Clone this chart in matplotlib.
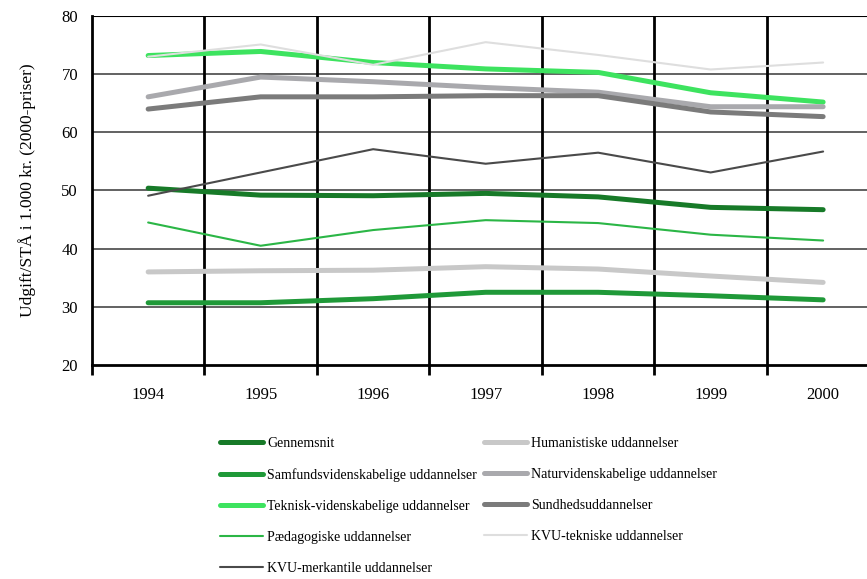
import matplotlib.pyplot as plt
import numpy as np

plt.rcParams['font.family'] = ['Liberation Serif', 'DejaVu Serif']

years = ['1994', '1995', '1996', '1997', '1998', '1999', '2000']

gennemsnit = [50.4, 49.2, 49.1, 49.5, 48.9, 47.1, 46.7]
samfund = [30.7, 30.7, 31.4, 32.5, 32.5, 31.9, 31.2]
teknisk = [73.2, 73.9, 72.0, 70.9, 70.3, 66.8, 65.2]
paedagog = [44.5, 40.5, 43.2, 44.9, 44.4, 42.4, 41.4]
kvu_merk = [49.1, 53.1, 57.1, 54.6, 56.5, 53.1, 56.7]
humanist = [36.0, 36.2, 36.3, 36.9, 36.5, 35.3, 34.2]
natur = [66.1, 69.5, 68.7, 67.7, 66.9, 64.4, 64.4]
sundhed = [64.0, 66.1, 66.1, 66.3, 66.3, 63.5, 62.7]
kvu_tek = [73.0, 75.1, 71.6, 75.5, 73.3, 70.8, 72.0]

# (label, values, colour, linewidth) -- order gives the two legend columns
series = [
    ('Gennemsnit', gennemsnit, '#177a28', 3.6),
    ('Samfundsvidenskabelige uddannelser', samfund, '#1f9938', 3.6),
    ('Teknisk-videnskabelige uddannelser', teknisk, '#3de35f', 3.6),
    ('Pædagogiske uddannelser', paedagog, '#2bb646', 1.5),
    ('KVU-merkantile uddannelser', kvu_merk, '#4a4a4a', 1.5),
    ('Humanistiske uddannelser', humanist, '#c8c8c8', 3.6),
    ('Naturvidenskabelige uddannelser', natur, '#a9a9ad', 3.6),
    ('Sundhedsuddannelser', sundhed, '#7b7b7b', 3.6),
    ('KVU-tekniske uddannelser', kvu_tek, '#dedede', 1.5),
]

fig = plt.figure(figsize=(8.67, 5.79), dpi=100)
ax = fig.add_axes([0.106, 0.3696, 0.894, 0.6028])

x = np.arange(len(years))
for label, vals, color, lw in series:
    ax.plot(x, vals, color=color, lw=lw, label=label, solid_capstyle='round', zorder=3)

ax.set_ylim(20, 80)
ax.set_xlim(-0.5, 6.39)
ax.set_yticks([20, 30, 40, 50, 60, 70, 80])
ax.set_xticks(x)
ax.set_xticklabels(years)
ax.set_xticks(np.arange(-0.5, 6.4, 1.0), minor=True)
ax.tick_params(axis='x', which='major', length=0, pad=16, labelsize=12)
ax.tick_params(axis='x', which='minor', length=7, width=2, color='black')
ax.tick_params(axis='y', length=0, pad=10, labelsize=12)

for yv in [30, 40, 50, 60, 70]:
    ax.axhline(yv, color='#555555', lw=1.3, zorder=1)
ax.axhline(80, color='black', lw=1.5, zorder=1)
for xv in np.arange(0.5, 6.4, 1.0):
    ax.axvline(xv, color='black', lw=2, zorder=1)

for side in ['top', 'right']:
    ax.spines[side].set_visible(False)
ax.spines['left'].set_linewidth(2)
ax.spines['bottom'].set_linewidth(2)

ax.set_ylabel('Udgift/STÅ i 1.000 kr. (2000-priser)', fontsize=12.5, labelpad=18)

fig.legend(loc='upper left', bbox_to_anchor=(220 / 867, 1 - 437 / 579), ncol=2,
           frameon=False, fontsize=10, handlelength=3.1, handletextpad=0.28,
           columnspacing=0.55, labelspacing=1.3, borderpad=0, borderaxespad=0)

fig.savefig('out.png', dpi=100)
